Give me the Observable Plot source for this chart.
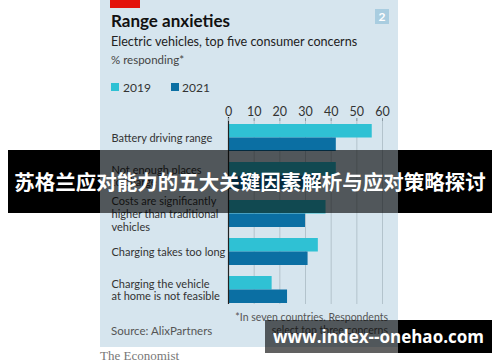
<!DOCTYPE html>
<html><head><meta charset="utf-8">
<script src="https://cdn.jsdelivr.net/npm/d3@7"></script>
<script src="https://cdn.jsdelivr.net/npm/@observablehq/plot@0.6"></script>
<style>
html,body{margin:0;padding:0;background:#fff;}
#wrap{position:relative;width:500px;height:362px;overflow:hidden;font-family:Lato,"Open Sans",sans-serif;}
.abs{position:absolute;white-space:nowrap;}
#panel{left:100px;top:0;width:298px;height:347px;background:#d6e5ee;}
#red{left:110px;top:0;width:30px;height:8px;background:#e3120b;}
#badge{left:375px;top:9px;width:14px;height:15px;background:#a9cde0;color:#fff;font:bold 12px Lato;text-align:center;line-height:15px;}
#title{left:111px;top:10px;font-weight:bold;font-size:17px;color:#111;}
#sub{left:111px;top:34px;font-size:12.6px;color:#222;}
#unit{left:111px;top:53px;font-size:11.5px;color:#444;}
.sw{width:8px;height:8px;}
.lg{font-size:12px;color:#333;top:80px;}
#plot{left:100px;top:100px;}
.foot{font-size:10.5px;color:#555;}
#econ{left:100px;top:348px;font-family:"Liberation Serif","DejaVu Serif",serif;font-size:13px;color:#777;}
.blk{background:#000;}
.dim{background:rgba(0,0,0,0.62);}
.ov{color:#fff;font-weight:bold;font-family:"Noto Sans CJK SC",sans-serif;}
</style></head>
<body><div id="wrap">
<div id="panel" class="abs"></div>
<div id="red" class="abs"></div>
<div id="badge" class="abs">2</div>
<div id="title" class="abs">Range anxieties</div>
<div id="sub" class="abs">Electric vehicles, top five consumer concerns</div>
<div id="unit" class="abs">% responding*</div>
<div class="abs sw" style="left:111px;top:83px;background:#2fc1d4"></div>
<div class="abs lg" style="left:123px">2019</div>
<div class="abs sw" style="left:171px;top:83px;background:#0b6fa3"></div>
<div class="abs lg" style="left:182px">2021</div>
<div id="plot" class="abs"></div>
<div class="abs foot" style="right:112px;top:311px;text-align:right;line-height:13px;">*In seven countries. Respondents<br>select top three concerns</div>
<div class="abs foot" style="left:111px;top:324px;font-size:11.5px;">Source: AlixPartners</div>
<div id="econ" class="abs">The Economist</div>
<!-- overlays -->
<div class="abs blk" style="left:8px;top:150px;width:92px;height:63px"></div>
<div class="abs dim" style="left:100px;top:150px;width:298px;height:63px"></div>
<div class="abs blk" style="left:398px;top:150px;width:94px;height:63px"></div>
<div class="abs ov" style="left:8px;top:150px;width:484px;height:63px;line-height:63px;text-align:center;font-size:20.5px;">苏格兰应对能力的五大关键因素解析与应对策略探讨</div>
<div class="abs dim" style="left:265px;top:320px;width:133px;height:33px"></div>
<div class="abs blk" style="left:398px;top:320px;width:94px;height:33px"></div>
<div class="abs ov" style="left:265px;top:320px;width:227px;height:33px;line-height:33px;text-align:center;font-size:17px;font-family:'Open Sans',sans-serif;">www.index--onehao.com</div>
</div>
<script>
const categories = ["Battery driving range", "Not enough places to charge", "Costs are significantly higher than traditional vehicles", "Charging takes too long", "Charging the vehicle at home is not feasible"];
const labels = ["Battery driving range", "Not enough places\nto charge", "Costs are significantly\nhigher than traditional\nvehicles", "Charging takes too long", "Charging the vehicle\nat home is not feasible"];
const values2019 = [56, 42, 38, 35, 17];
const values2021 = [42, 36, 30, 31, 23];
const xTicks = [0, 10, 20, 30, 40, 50, 60];
const gridTicks = [10, 20, 30, 40, 50, 60];

const d19 = categories.map((c, i) => ({category: c, value: values2019[i]}));
const d21 = categories.map((c, i) => ({category: c, value: values2021[i]}));
const lab = categories.map((c, i) => ({category: c, label: labels[i]}));

const chart = Plot.plot({
  width: 298, height: 210,
  marginLeft: 128, marginRight: 16, marginTop: 24, marginBottom: 7,
  style: {background: "transparent", fontFamily: "Lato, 'Open Sans', sans-serif"},
  x: {domain: [0, 60], axis: null, label: null},
  y: {domain: categories, paddingInner: 0.29, paddingOuter: 0, axis: null},
  marks: [
    Plot.ruleX(gridTicks, {stroke: "#b3c3cc", strokeWidth: 1, insetTop: -6, insetBottom: -1}),
    Plot.barX(d19, {x: "value", y: "category", fill: "#2fc1d4", insetBottom: 13.5}),
    Plot.barX(d21, {x: "value", y: "category", fill: "#0b6fa3", insetTop: 13.5}),
    Plot.ruleX([0], {stroke: "#222", strokeWidth: 1.2, insetTop: -7, insetBottom: -1}),
    Plot.axisX(xTicks, {anchor: "top", label: null, tickSize: 3, tickPadding: 2, dy: -4, fontSize: 12.5, fontFamily: "Lato", color: "#333", stroke: "#8a9aa3", tickFormat: d => d}),
    Plot.text(lab, {y: "category", text: "label", frameAnchor: "left", dx: -117, textAnchor: "start", fontSize: 11, fontFamily: "Lato", fill: "#333", lineHeight: 1.16})
  ]
});
document.getElementById("plot").appendChild(chart);
</script>
</body></html>
